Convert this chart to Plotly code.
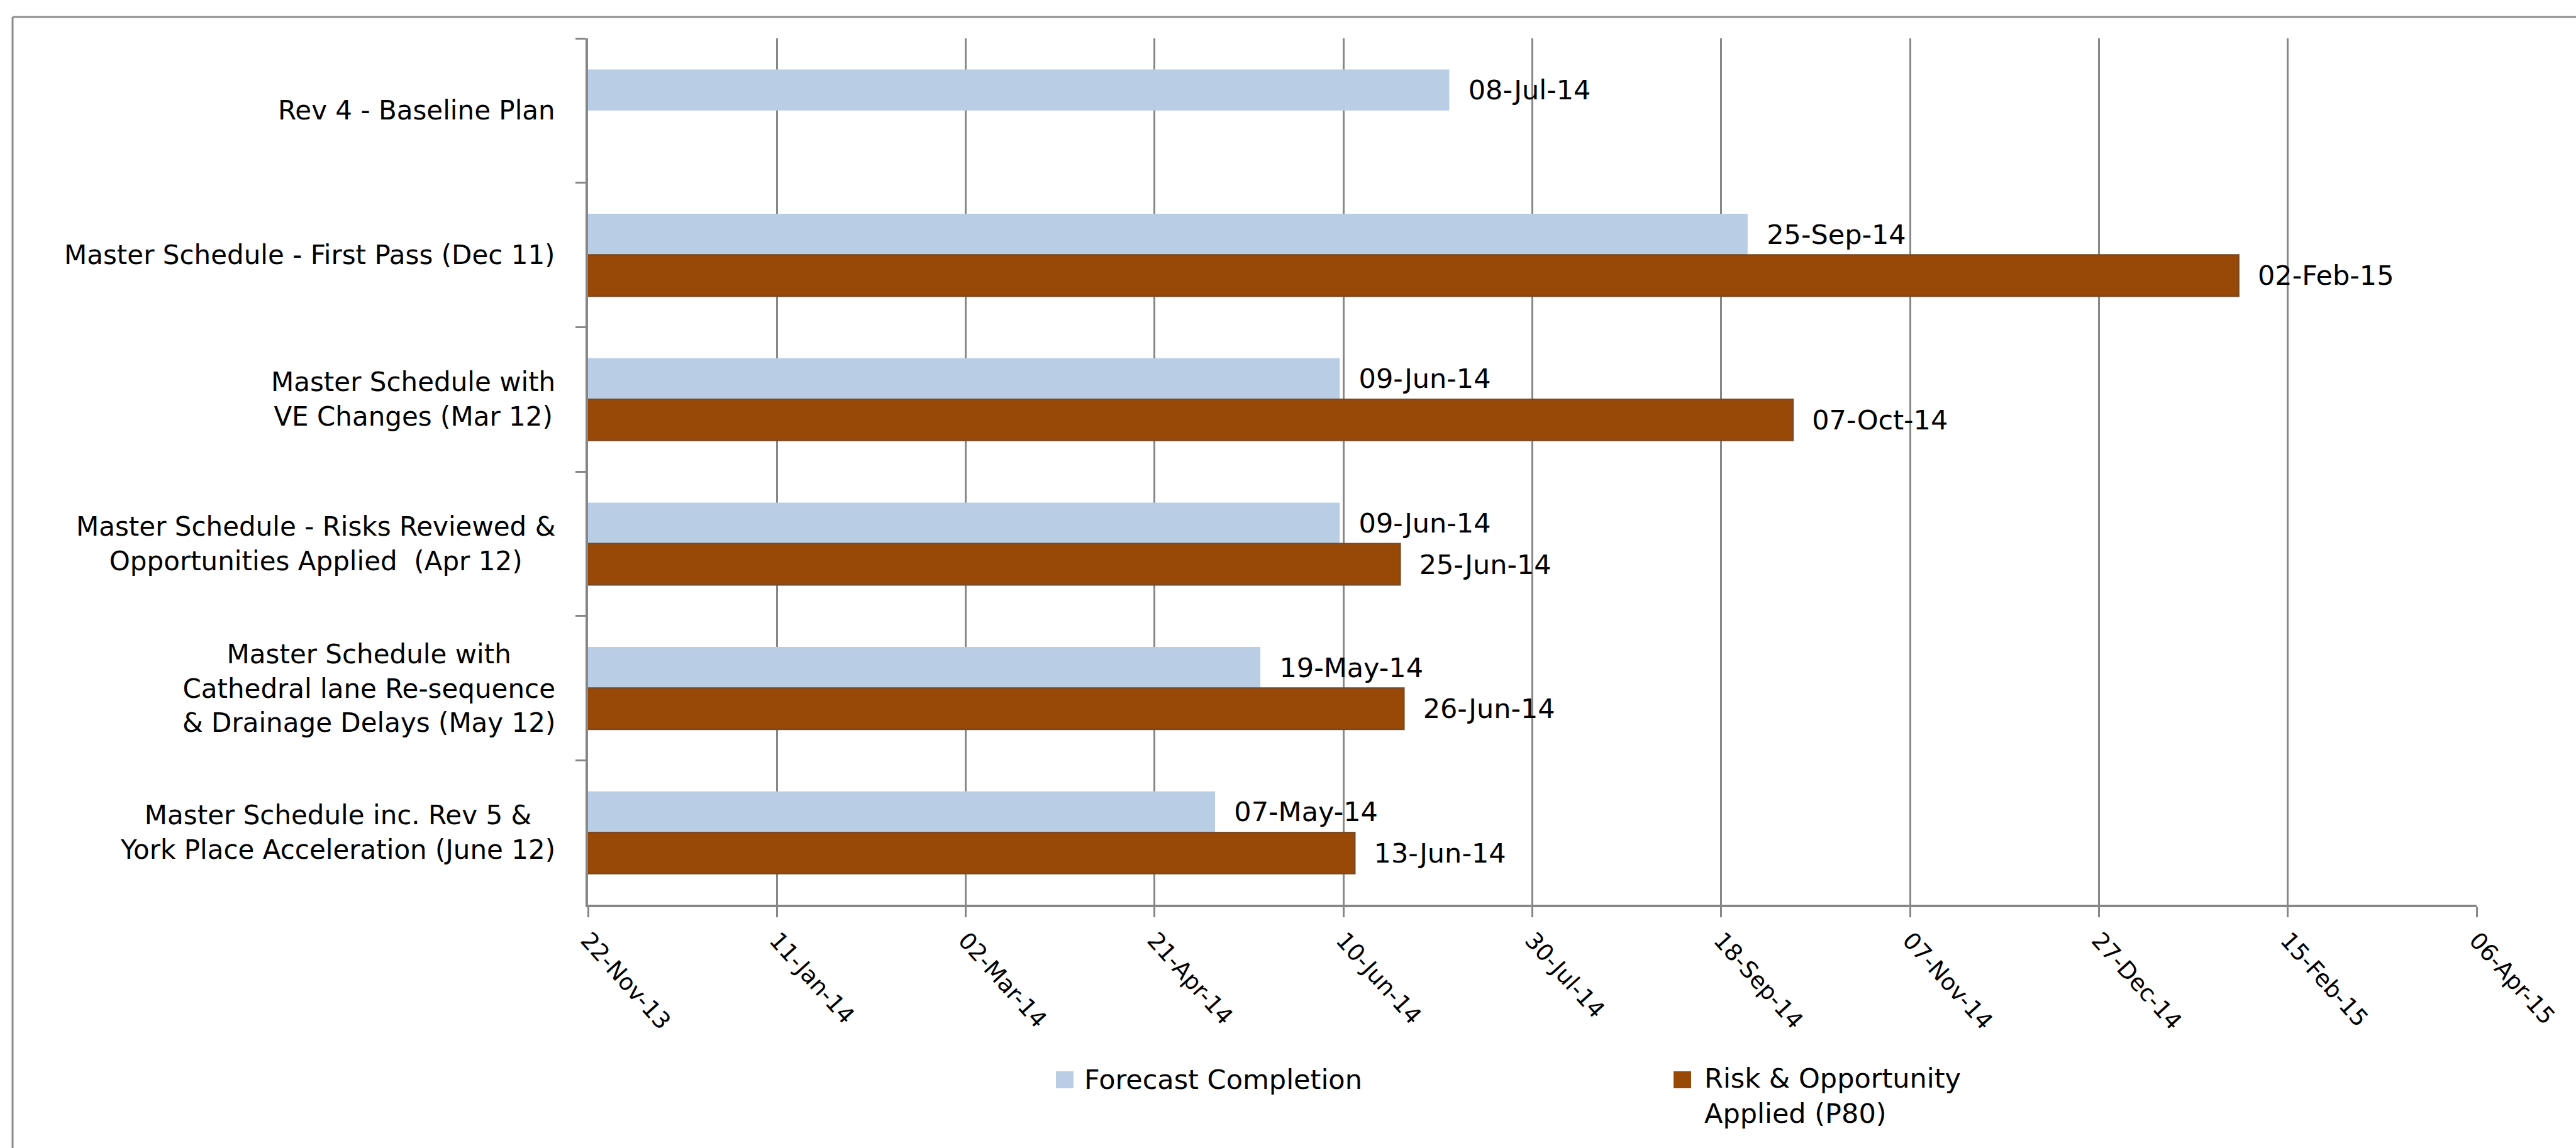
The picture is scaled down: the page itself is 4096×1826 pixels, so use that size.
import plotly.graph_objects as go
from datetime import datetime

# ---------------- data ----------------
categories = [
    "Rev 4 - Baseline Plan",
    "Master Schedule - First Pass (Dec 11)",
    "Master Schedule with<br>VE Changes (Mar 12)",
    "Master Schedule - Risks Reviewed &<br>Opportunities Applied  (Apr 12)",
    "Master Schedule with<br>Cathedral lane Re-sequence<br>& Drainage Delays (May 12)",
    "Master Schedule inc. Rev 5 &<br>York Place Acceleration (June 12)",
]
forecast_completion = ["2014-07-08", "2014-09-25", "2014-06-09", "2014-06-09", "2014-05-19", "2014-05-07"]
risk_opportunity_p80 = [None, "2015-02-02", "2014-10-07", "2014-06-25", "2014-06-26", "2014-06-13"]

tick_dates = ["2013-11-22", "2014-01-11", "2014-03-02", "2014-04-21", "2014-06-10", "2014-07-30",
              "2014-09-18", "2014-11-07", "2014-12-27", "2015-02-15", "2015-04-06"]
tick_labels = ["22-Nov-13", "11-Jan-14", "02-Mar-14", "21-Apr-14", "10-Jun-14", "30-Jul-14",
               "18-Sep-14", "07-Nov-14", "27-Dec-14", "15-Feb-15", "06-Apr-15"]
series_names = ["Forecast Completion", "Risk & Opportunity<br>Applied (P80)"]

# ---------------- styling ----------------
W, H = 4096, 1826
PL, PR, PT, PB = 935, 3938, 61, 1439
FONT = "DejaVu Sans"
BLUE = "#B9CDE5"
BROWN = "#984807"
GRID = "#878787"


def px_x(px):
    return (px - PL) / (PR - PL)


def px_y(py):
    return (PB - py) / (PB - PT)


def value_labels(dates):
    return ["\u00a0\u00a0" + datetime.strptime(d, "%Y-%m-%d").strftime("%d-%b-%y") if d else ""
            for d in dates]


fig = go.Figure()
fig.add_trace(go.Bar(
    y=categories, x=forecast_completion, orientation="h", name=series_names[0],
    marker=dict(color=BLUE, line=dict(width=0)),
    text=value_labels(forecast_completion), textposition="outside", constraintext="none",
    textfont=dict(family=FONT, size=43, color="black"), showlegend=False,
))
fig.add_trace(go.Bar(
    y=categories, x=risk_opportunity_p80, orientation="h", name=series_names[1],
    marker=dict(color=BROWN, line=dict(width=2.5, color="#7a4a24")),
    text=value_labels(risk_opportunity_p80), textposition="outside", constraintext="none",
    textfont=dict(family=FONT, size=43, color="black"), showlegend=False,
))

annotations = []
for c in categories:
    annotations.append(dict(
        x=0, xref="paper", y=c, yref="y", xanchor="right", yanchor="middle",
        xshift=-50, text=c, align="center", showarrow=False,
        font=dict(family=FONT, size=42, color="black"),
    ))

# custom legend
annotations.append(dict(
    x=px_x(1722), y=px_y(1717), xref="paper", yref="paper", xanchor="left", yanchor="middle",
    text=series_names[0], showarrow=False, align="left",
    font=dict(family=FONT, size=43, color="black"),
))
annotations.append(dict(
    x=px_x(2708), y=px_y(1743), xref="paper", yref="paper", xanchor="left", yanchor="middle",
    text=series_names[1], showarrow=False, align="left",
    font=dict(family=FONT, size=43, color="black"),
))

shapes = [
    dict(type="rect", xref="paper", yref="paper", x0=px_x(1679), x1=px_x(1707),
         y0=px_y(1731), y1=px_y(1704), fillcolor=BLUE, line=dict(width=0)),
    dict(type="rect", xref="paper", yref="paper", x0=px_x(2661), x1=px_x(2689),
         y0=px_y(1731), y1=px_y(1704), fillcolor=BROWN, line=dict(width=0)),
    # outer chart border (top and left)
    dict(type="line", xref="paper", yref="paper", x0=px_x(20), x1=px_x(W + 5),
         y0=px_y(27), y1=px_y(27), line=dict(color="#8c8c8c", width=3)),
    dict(type="line", xref="paper", yref="paper", x0=px_x(20), x1=px_x(20),
         y0=px_y(27), y1=px_y(H + 5), line=dict(color="#8c8c8c", width=3)),
]

fig.update_layout(
    width=W, height=H,
    margin=dict(l=PL, r=W - PR, t=PT, b=H - PB, pad=0),
    paper_bgcolor="white", plot_bgcolor="white",
    barmode="group", bargap=0.43, bargroupgap=0,
    showlegend=False,
    annotations=annotations, shapes=shapes,
    font=dict(family=FONT, color="black"),
)
fig.update_xaxes(
    type="date", range=[tick_dates[0], tick_dates[-1]],
    tickmode="array", tickvals=tick_dates, ticktext=tick_labels,
    tickangle=48, tickfont=dict(family=FONT, size=37, color="black"),
    showgrid=True, gridcolor=GRID, gridwidth=3,
    showline=True, linecolor=GRID, linewidth=4,
    ticks="outside", ticklen=16, tickwidth=3, tickcolor=GRID,
    zeroline=False, fixedrange=True,
)
fig.update_yaxes(
    type="category", autorange="reversed",
    showticklabels=False, showgrid=False,
    showline=True, linecolor=GRID, linewidth=4,
    ticks="outside", tickson="boundaries", ticklen=16, tickwidth=3, tickcolor=GRID,
    zeroline=False, fixedrange=True,
)

fig.write_html("out.html")
